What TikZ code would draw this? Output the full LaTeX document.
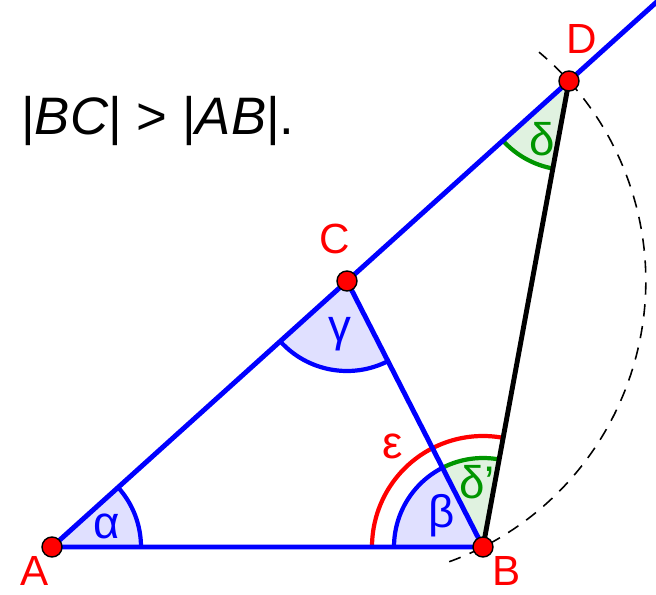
\documentclass[tikz,border=0pt]{standalone}
\usepackage{fontspec}
\setmainfont{Liberation Sans}
\usetikzlibrary{angles,calc}

\definecolor{ptred}{RGB}{255,0,0}
\definecolor{lineblue}{RGB}{0,0,255}
\definecolor{arcgreen}{RGB}{0,150,0}

\begin{document}
\begin{tikzpicture}[
  side/.style={line width=2.8pt, lineblue},
  ptlab/.style={font=\fontsize{24}{28}\selectfont, ptred, inner sep=0pt},
  anglab/.style={font=\fontsize{26}{30}\selectfont},
  bluearc/.style={draw=lineblue, fill=lineblue!12, line width=2.4pt, angle radius=1.78cm},
  greenarc/.style={draw=arcgreen, fill=arcgreen!12, line width=2.4pt, angle radius=1.78cm},
  dot/.style={circle, fill=ptred, draw=black, line width=0.8pt, inner sep=0pt, minimum size=0.4cm}
]

\def\W{13.12}  
\def\H{11.88}  
\def\R{5.975}  

\clip (0,0) rectangle (\W,\H);

\coordinate (A) at (1.04,0.94);
\coordinate (B) at (9.66,0.94);
\coordinate (C) at (6.94,6.26);
\coordinate (D) at (11.38,10.26);
\coordinate (E) at ($(A)!1.5!(D)$);

% circle round C through B
\draw[line width=0.9pt, dash pattern=on 7pt off 5.5pt] (C) ++(-70:\R) arc[start angle=-70, end angle=50, radius=\R];

\pic[bluearc] {angle=B--A--C};
\pic[bluearc, angle radius=1.8cm] {angle=A--C--B};
\pic[draw=ptred, line width=2.4pt, angle radius=2.22cm] {angle=D--B--A};
\pic[bluearc] {angle=C--B--A};
\pic[greenarc] {angle=D--B--C};
\pic[greenarc] {angle=A--D--B};

\draw[side] (A) -- (E);
\draw[side] (A) -- (B) -- (C);
\draw[line width=2.8pt] (B) -- (D);

\foreach \p in {A,B,C,D}
  \node[dot] at (\p) {};

\node[ptlab] at (0.70,0.46)  {A};
\node[ptlab] at (10.14,0.46) {B};
\node[ptlab] at (6.70,7.10)  {C};
\node[ptlab] at (11.64,11.10) {D};

\node[anglab, lineblue] at (2.14,1.36) {α};
\node[anglab, lineblue] at (8.84,1.56) {β};
\node[anglab, lineblue] at (6.80,5.20) {γ};
\node[anglab, arcgreen] at (10.84,9.10) {δ};
\node[anglab, arcgreen] at (9.54,2.24) {δ'};
\node[anglab, ptred]    at (7.86,2.96) {ε};

\node[anchor=base west, font=\fontsize{30}{36}\selectfont] at (0.30,9.18)
  {|\textit{BC}| > |\textit{AB}|.};
\end{tikzpicture}
\end{document}
